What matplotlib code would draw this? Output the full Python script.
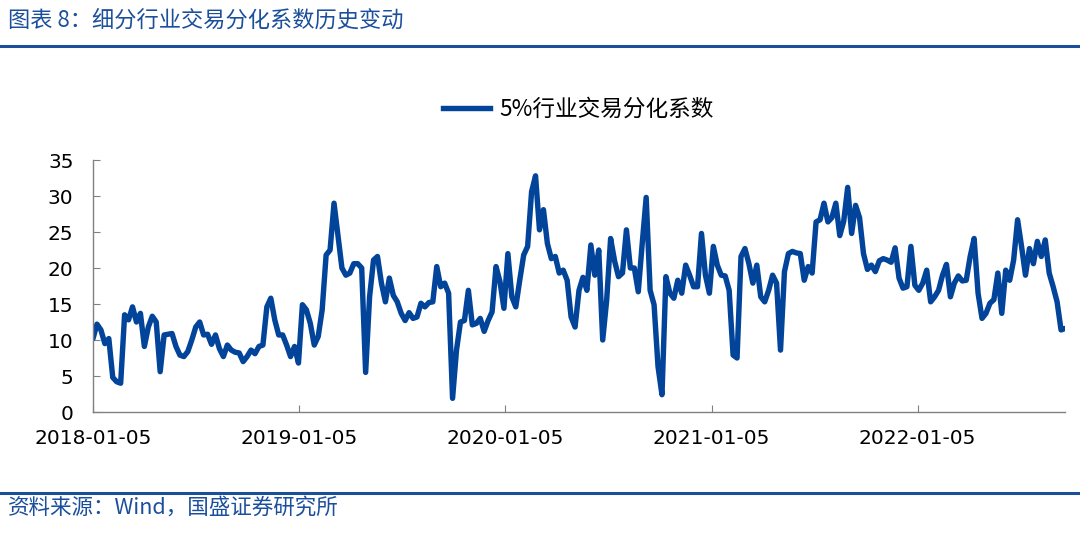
import pandas as pd
import numpy as np
import matplotlib
matplotlib.use('Agg')
import matplotlib.pyplot as plt
import matplotlib.dates as mdates
from matplotlib.lines import Line2D

plt.rcParams['font.family'] = ['Noto Sans CJK SC', 'DejaVu Sans']

# weekly values, by year
v2018 = [10.2, 12.2, 11.4, 9.5, 10.2, 4.8, 4.2, 4.0, 13.5, 12.8, 14.6, 12.5, 13.7,
         9.1, 11.8, 13.3, 12.5, 5.6, 10.7, 10.8, 10.9, 9.1, 7.9, 7.7, 8.4, 10.0,
         11.8, 12.5, 10.7, 10.8, 9.4, 10.7, 8.8, 7.7, 9.3, 8.6, 8.3, 8.2, 7.0, 7.7,
         8.6, 8.1, 9.1, 9.3, 14.6, 15.8, 12.8, 10.7, 10.7, 9.3, 7.7, 9.1]
v2019 = [6.8, 14.9, 14.2, 12.3, 9.3, 10.5, 14.2, 21.8, 22.5, 29.0, 24.5, 20.0, 19.0,
         19.3, 20.6, 20.6, 20.0, 5.5, 16.0, 21.1, 21.6, 17.9, 15.3, 18.6, 16.2, 15.3,
         13.7, 12.7, 13.8, 13.0, 13.2, 15.1, 14.6, 15.2, 15.3, 20.2, 17.4, 17.9, 16.5,
         1.9, 8.6, 12.5, 12.7, 16.9, 12.1, 12.3, 13.0, 11.2, 12.7, 13.9, 20.2, 18.1]
v2020 = [14.4, 22.0, 16.0, 14.6, 18.3, 21.8, 23.0, 30.6, 32.8, 25.3, 28.1, 23.4, 21.3,
         21.6, 19.3, 19.7, 18.3, 13.2, 11.8, 16.9, 18.7, 16.9, 23.2, 19.0, 22.5, 10.0,
         15.5, 24.1, 21.0, 18.8, 19.3, 25.3, 20.0, 20.0, 16.7, 23.4, 29.8, 16.9, 14.9,
         6.3, 2.4, 18.8, 16.5, 15.8, 18.3, 16.5, 20.4, 19.0, 17.4, 17.4, 24.8, 19.0]
v2021 = [16.5, 23.0, 20.4, 19.0, 18.9, 16.9, 7.9, 7.5, 21.6, 22.7, 20.6, 17.9, 20.4,
         16.0, 15.3, 16.9, 19.0, 17.9, 8.6, 19.5, 22.0, 22.3, 22.1, 22.0, 18.3, 20.2,
         19.3, 26.4, 26.7, 29.0, 26.4, 27.0, 29.0, 24.5, 26.5, 31.2, 24.8, 28.7, 27.0,
         22.0, 19.8, 20.4, 19.5, 21.0, 21.3, 21.1, 20.8, 22.8, 18.6, 17.2, 17.4, 23.0]
v2022 = [17.6, 16.9, 17.9, 19.7, 15.3, 16.0, 16.9, 19.0, 20.5, 16.0, 17.9, 18.9, 18.2,
         18.3, 21.6, 24.1, 16.5, 13.0, 13.7, 15.1, 15.6, 19.3, 13.7, 19.7, 18.3, 21.1,
         26.7, 23.0, 19.0, 22.7, 20.6, 23.7, 21.6, 23.9, 19.3, 17.4, 15.3, 11.4, 11.6]

values = v2018 + v2019 + v2020 + v2021 + v2022
dates = pd.date_range('2018-01-05', periods=len(values), freq='W-FRI')

tick_labels = ['2018-01-05', '2019-01-05', '2020-01-05', '2021-01-05', '2022-01-05']
y_ticks = [0, 5, 10, 15, 20, 25, 30, 35]
series_name = '5%行业交易分化系数'

line_color = '#02449A'
blue = '#1B4F9C'

fig = plt.figure(figsize=(10.8, 5.33), dpi=100)
ax = fig.add_axes([93/1080, 1-412/533, (1065-93)/1080, 252/533])

ax.plot(dates, values, color=line_color, lw=3.9, solid_joinstyle='round',
        solid_capstyle='round')

ax.set_ylim(0, 35)
ax.set_yticks(y_ticks)
ax.set_xlim(dates[0], dates[-1])
ax.set_xticks(pd.to_datetime(tick_labels))
ax.set_xticklabels(tick_labels)

for s in ['top', 'right']:
    ax.spines[s].set_visible(False)
for s in ['left', 'bottom']:
    ax.spines[s].set_color('#808080')
    ax.spines[s].set_linewidth(1.0)
ax.tick_params(axis='both', direction='in', color='#808080', length=5,
               labelsize=14.5, labelcolor='black')
ax.tick_params(axis='y', pad=14)
ax.tick_params(axis='x', pad=12)
for lab in ax.get_xticklabels() + ax.get_yticklabels():
    lab.set_family(['DejaVu Sans'])

handle = Line2D([], [], color=line_color, lw=3.9)
fig.legend([handle], [series_name], loc='center', bbox_to_anchor=(578/1080, 1-109/533),
           frameon=False, fontsize=16.3, handlelength=2.1, handletextpad=0.4)

fig.text(8/1080, 1-20/533, '图表 8：细分行业交易分化系数历史变动', color=blue,
         fontsize=16, va='center', ha='left')
fig.add_artist(Line2D([0, 1], [1-46/533, 1-46/533], color=blue, lw=2.2))
fig.add_artist(Line2D([0, 1], [1-493/533, 1-493/533], color=blue, lw=2.2))
fig.text(8/1080, 1-508/533, '资料来源：Wind，国盛证券研究所', color=blue,
         fontsize=15.5, va='center', ha='left')

fig.savefig('out.png', dpi=100)
